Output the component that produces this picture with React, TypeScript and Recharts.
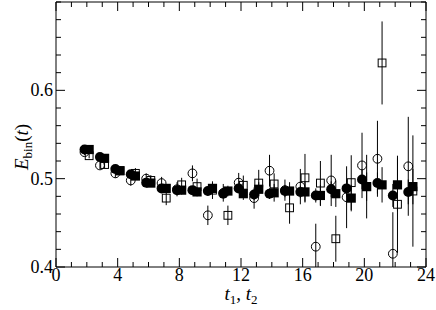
import { ScatterChart, Scatter, XAxis, YAxis, ErrorBar, ReferenceLine } from 'recharts';

// time slices t = 2 .. 23
const tValues = [2, 3, 4, 5, 6, 7, 8, 9, 10, 11, 12, 13, 14, 15, 16, 17, 18, 19, 20, 21, 22, 23];

const filledCircle = [0.533, 0.5245, 0.511, 0.505, 0.4955, 0.489, 0.487, 0.487, 0.486, 0.483, 0.489, 0.482, 0.483, 0.486, 0.485, 0.481, 0.488, 0.489, 0.499, 0.495, 0.481, 0.485];
const filledCircleErr = [0.002, 0.002, 0.003, 0.003, 0.003, 0.004, 0.004, 0.004, 0.005, 0.005, 0.005, 0.006, 0.006, 0.007, 0.007, 0.008, 0.009, 0.01, 0.011, 0.012, 0.013, 0.014];

const filledSquare = [0.533, 0.523, 0.509, 0.503, 0.495, 0.489, 0.487, 0.485, 0.489, 0.486, 0.483, 0.488, 0.484, 0.486, 0.485, 0.481, 0.483, 0.478, 0.491, 0.493, 0.493, 0.491];
const filledSquareErr = [0.002, 0.003, 0.003, 0.003, 0.004, 0.004, 0.005, 0.005, 0.006, 0.006, 0.007, 0.008, 0.01, 0.01, 0.012, 0.012, 0.015, 0.015, 0.016, 0.02, 0.03, 0.02];

const openCircle = [0.53, 0.515, 0.506, 0.498, 0.5, 0.495, 0.488, 0.506, 0.4585, 0.484, 0.4955, 0.478, 0.509, 0.487, 0.491, 0.423, 0.498, 0.479, 0.515, 0.5225, 0.415, 0.514];
const openCircleErr = [0.003, 0.004, 0.005, 0.006, 0.006, 0.007, 0.008, 0.009, 0.011, 0.01, 0.011, 0.012, 0.018, 0.012, 0.02, 0.026, 0.029, 0.035, 0.037, 0.043, 0.047, 0.056];

const openSquare = [0.526, 0.516, 0.509, 0.506, 0.498, 0.478, 0.493, 0.491, 0.487, 0.4585, 0.4925, 0.495, 0.494, 0.467, 0.501, 0.495, 0.432, 0.4955, 0.491, 0.631, 0.471, 0.486];
const openSquareErr = [0.003, 0.004, 0.005, 0.006, 0.006, 0.008, 0.008, 0.009, 0.01, 0.011, 0.011, 0.015, 0.012, 0.018, 0.027, 0.025, 0.026, 0.031, 0.036, 0.047, 0.055, 0.063];

const xTicks = [0, 1, 2, 3, 4, 5, 6, 7, 8, 9, 10, 11, 12, 13, 14, 15, 16, 17, 18, 19, 20, 21, 22, 23, 24];
const xLabels = [0, 4, 8, 12, 16, 20, 24];
const yTicks = [0.4, 0.42, 0.44, 0.46, 0.48, 0.5, 0.52, 0.54, 0.56, 0.58, 0.6, 0.62, 0.64, 0.66, 0.68, 0.7];
const yLabels = ['0.4', '0.5', '0.6'];
const X_MAX = 24;
const Y_MIN = 0.4;
const Y_MAX = 0.7;

const FONT = '"Liberation Serif", "DejaVu Serif", serif';
// plot frame edges in pixels (from the chart margins below)
const PLOT_TOP = 2;
const PLOT_RIGHT = 426;

// error bars are cut at the bottom of the frame, like the original
const build = (vals: number[], errs: number[], shift: number) =>
  tValues.map((t, i) => ({ x: t + shift, y: vals[i], err: [Math.min(errs[i], vals[i] - Y_MIN), errs[i]] }));

const fcData = build(filledCircle, filledCircleErr, -0.15);
const fsData = build(filledSquare, filledSquareErr, 0.15);
const ocData = build(openCircle, openCircleErr, -0.15);
const osData = build(openSquare, openSquareErr, 0.15);

const FilledCircle = (p: any) => <circle cx={p.cx} cy={p.cy} r={5} fill="#000" />;
const FilledSquare = (p: any) => <rect x={p.cx - 4.6} y={p.cy - 4.6} width={9.2} height={9.2} fill="#000" />;
const OpenCircle = (p: any) => <circle cx={p.cx} cy={p.cy} r={4.4} fill="none" stroke="#000" strokeWidth={1} />;
const OpenSquare = (p: any) => <rect x={p.cx - 3.9} y={p.cy - 3.9} width={7.8} height={7.8} fill="none" stroke="#000" strokeWidth={1} />;

const isLabeledX = (v: number) => xLabels.includes(v);
const yLabelOf = (v: number) => yLabels.find((s) => Math.abs(parseFloat(s) - v) < 1e-6);

const BottomTick = (p: any) => {
  const v = p.payload.value;
  const len = isLabeledX(v) ? 9 : 5;
  return (
    <g>
      <line x1={p.x} x2={p.x} y1={p.y} y2={p.y - len} stroke="#000" />
      <line x1={p.x} x2={p.x} y1={PLOT_TOP} y2={PLOT_TOP + len} stroke="#000" />
      {isLabeledX(v) && (
        <text x={p.x} y={p.y + 14} textAnchor="middle" fontFamily={FONT} fontSize={18} fill="#000">
          {v}
        </text>
      )}
    </g>
  );
};

const LeftTick = (p: any) => {
  const lab = yLabelOf(p.payload.value);
  const len = lab ? 9 : 5;
  return (
    <g>
      <line x1={p.x} x2={p.x + len} y1={p.y} y2={p.y} stroke="#000" />
      <line x1={PLOT_RIGHT} x2={PLOT_RIGHT - len} y1={p.y} y2={p.y} stroke="#000" />
      {lab && (
        <text x={p.x - 3} y={p.y + 6} textAnchor="end" fontFamily={FONT} fontSize={18} fill="#000">
          {lab}
        </text>
      )}
    </g>
  );
};

const YTitle = (props: any) => {
  const vb = props.viewBox;
  const x = vb.x + 28;
  const y = 147;
  return (
    <text transform={`rotate(-90, ${x}, ${y})`} x={x} y={y} textAnchor="middle" fontFamily={FONT} fontSize={19} fill="#000">
      <tspan fontStyle="italic">E</tspan>
      <tspan fontSize={13} dy={4}>bin</tspan>
      <tspan dy={-4}>(</tspan>
      <tspan fontStyle="italic">t</tspan>
      <tspan>)</tspan>
    </text>
  );
};

const XTitle = (props: any) => {
  const vb = props.viewBox;
  const x = vb.x + vb.width / 2;
  const y = vb.y + 33;
  return (
    <text x={x} y={y} textAnchor="middle" fontFamily={FONT} fontSize={19} fill="#000">
      <tspan fontStyle="italic">t</tspan>
      <tspan fontSize={13} dy={4}>1</tspan>
      <tspan dy={-4}>, </tspan>
      <tspan fontStyle="italic">t</tspan>
      <tspan fontSize={13} dy={4}>2</tspan>
    </text>
  );
};

export default function App() {
  return (
    <div style={{ position: 'absolute', left: 0, top: 0, background: '#fff' }}>
      <ScatterChart width={436} height={310} margin={{ top: PLOT_TOP, right: 436 - PLOT_RIGHT, bottom: 0, left: 0 }}>
        <XAxis
          type="number"
          dataKey="x"
          domain={[0, X_MAX]}
          ticks={xTicks}
          interval={0}
          height={43}
          tickSize={0}
          tickMargin={0}
          tickLine={false}
          tick={<BottomTick />}
          axisLine={{ stroke: '#000' }}
          label={<XTitle />}
        />
        <YAxis
          type="number"
          dataKey="y"
          domain={[Y_MIN, Y_MAX]}
          allowDataOverflow
          ticks={yTicks}
          interval={0}
          width={56}
          tickSize={0}
          tickMargin={0}
          tickLine={false}
          tick={<LeftTick />}
          axisLine={{ stroke: '#000' }}
          label={<YTitle />}
        />
        <ReferenceLine y={Y_MAX} stroke="#000" strokeWidth={1} />
        <ReferenceLine x={X_MAX} stroke="#000" strokeWidth={1} />
        <Scatter data={ocData} shape={OpenCircle} isAnimationActive={false}>
          <ErrorBar dataKey="err" direction="y" width={0} stroke="#000" strokeWidth={1} />
        </Scatter>
        <Scatter data={osData} shape={OpenSquare} isAnimationActive={false}>
          <ErrorBar dataKey="err" direction="y" width={0} stroke="#000" strokeWidth={1} />
        </Scatter>
        <Scatter data={fcData} shape={FilledCircle} isAnimationActive={false}>
          <ErrorBar dataKey="err" direction="y" width={0} stroke="#000" strokeWidth={1} />
        </Scatter>
        <Scatter data={fsData} shape={FilledSquare} isAnimationActive={false}>
          <ErrorBar dataKey="err" direction="y" width={0} stroke="#000" strokeWidth={1} />
        </Scatter>
      </ScatterChart>
    </div>
  );
}
